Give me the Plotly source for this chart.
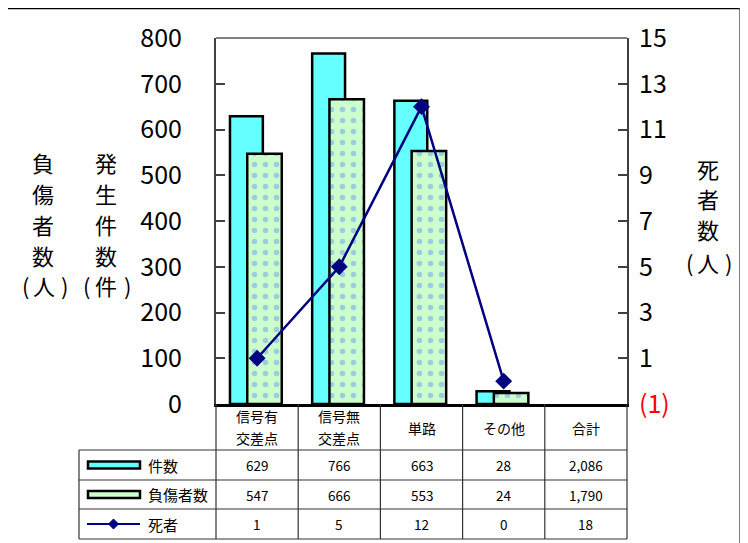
import plotly.graph_objects as go

categories = ["信号有<br>交差点", "信号無<br>交差点", "単路", "その他", "合計"]
bar_categories = categories[:4]
incidents = [629, 766, 663, 28]      # 件数
injured = [547, 666, 553, 24]        # 負傷者数
deaths = [1, 5, 12, 0]               # 死者
series_names = ["件数", "負傷者数", "死者"]
left_ticks = [0, 100, 200, 300, 400, 500, 600, 700, 800]
right_ticks = [-1, 1, 3, 5, 7, 9, 11, 13, 15]
right_ticktext = ["<span style='color:red'>(1)</span>", "1", "3", "5", "7", "9", "11", "13", "15"]

# the page adds an 8px body margin, so the figure is drawn 8px smaller and offset
OFF = 8
W, H = 748 - OFF, 543 - OFF
FONT = "Noto Sans CJK JP"

def px(x):
    return (x - OFF) / W

def py(y):
    return 1 - (y - OFF) / H

x_dom = [px(216), px(627)]
y_dom = [py(404), py(38)]

fig = go.Figure()
fig.add_trace(go.Bar(
    x=bar_categories, y=incidents, name=series_names[0],
    marker=dict(color="#66FFFF", line=dict(color="black", width=2.5)),
    offset=-0.33, width=0.40, yaxis="y", showlegend=False))
fig.add_trace(go.Bar(
    x=bar_categories, y=injured, name=series_names[1],
    marker=dict(color="#CCFFCC", line=dict(color="black", width=2.5),
                pattern=dict(shape=".", fgcolor="#6A9BF0", size=11, solidity=0.2)),
    offset=-0.12, width=0.42, yaxis="y", showlegend=False))
fig.add_trace(go.Scatter(
    x=bar_categories, y=deaths, name=series_names[2], mode="lines+markers",
    line=dict(color="#000080", width=2.5),
    marker=dict(symbol="diamond", size=13, color="#000080"),
    yaxis="y2", showlegend=False))

fig.update_layout(
    width=W, height=H, margin=dict(l=0, r=0, t=0, b=0, pad=0), autosize=False,
    paper_bgcolor="white", plot_bgcolor="white",
    barmode="overlay",
    font=dict(family=FONT, color="black"),
    xaxis=dict(domain=x_dom, type="category", categoryorder="array",
               categoryarray=categories, range=[-0.5, 4.5], automargin=False,
               showticklabels=False, ticks="", showgrid=False,
               showline=True, linecolor="black", linewidth=2.5, zeroline=False),
    yaxis=dict(domain=y_dom, range=[0, 800], tickvals=left_ticks, automargin=False,
               ticks="inside", ticklen=9, tickcolor="#404040", tickwidth=1.5,
               showgrid=False, zeroline=False, showline=True, linecolor="#404040",
               linewidth=2, tickfont=dict(size=25, family=FONT),
               ticklabelstandoff=27),
    yaxis2=dict(domain=y_dom, range=[-1, 15], tickvals=right_ticks, ticktext=right_ticktext,
                overlaying="y", side="right", anchor="x", automargin=False,
                ticks="inside", ticklen=9, tickcolor="#404040", tickwidth=1.5,
                showgrid=False, zeroline=False, showline=True, linecolor="#404040",
                linewidth=2, tickfont=dict(size=25, family=FONT),
                ticklabelstandoff=5),
)

shapes = []
ann = []
line_col = "#333333"
# top border of plot area
shapes.append(dict(type="line", xref="paper", yref="paper", x0=x_dom[0], x1=x_dom[1],
                   y0=y_dom[1], y1=y_dom[1], line=dict(color="#555555", width=1.5)))
# outer frame lines (top and right)
shapes.append(dict(type="line", xref="paper", yref="paper", x0=0, x1=px(740),
                   y0=py(8.6), y1=py(8.6), line=dict(color="black", width=1.5)))
shapes.append(dict(type="line", xref="paper", yref="paper", x0=px(740), x1=px(740),
                   y0=py(8), y1=0, line=dict(color="#555555", width=1.5)))

# table geometry
row_y = [404, 450, 480, 509, 539]
tbl_left = 79
for i in range(len(categories) + 1):
    xv = x_dom[0] + (x_dom[1] - x_dom[0]) * i / len(categories)
    shapes.append(dict(type="line", xref="paper", yref="paper", x0=xv, x1=xv,
                       y0=py(404), y1=py(539), line=dict(color=line_col, width=1.2)))
shapes.append(dict(type="line", xref="paper", yref="paper", x0=px(tbl_left), x1=px(tbl_left),
                   y0=py(450), y1=py(539), line=dict(color=line_col, width=1.2)))
for yv in row_y[1:]:
    shapes.append(dict(type="line", xref="paper", yref="paper", x0=px(tbl_left), x1=x_dom[1],
                       y0=py(yv), y1=py(yv), line=dict(color=line_col, width=1.2)))

# header labels (one annotation per line)
for c in categories:
    parts = c.split("<br>")
    ys = [416, 438] if len(parts) == 2 else [428]
    for part, yy in zip(parts, ys):
        ann.append(dict(x=c, xref="x", y=py(yy), yref="paper", text=part, showarrow=False,
                        font=dict(size=14, family=FONT), yanchor="middle"))

rows = [incidents, injured, deaths]
for r, vals in enumerate(rows):
    yc = py((row_y[r + 1] + row_y[r + 2]) / 2)
    total = sum(vals)
    cells = [f"{v:,}" for v in vals] + [f"{total:,}"]
    for c, t in zip(categories, cells):
        ann.append(dict(x=c, xref="x", y=yc, yref="paper", text=t, showarrow=False,
                        font=dict(size=13.5, family=FONT), yanchor="middle"))
    ann.append(dict(x=px(146), xref="paper", y=yc, yref="paper", text=series_names[r],
                    showarrow=False, xanchor="left", yanchor="middle",
                    font=dict(size=15, family=FONT)))

# legend keys in the table
y1c = (450 + 480) / 2
shapes.append(dict(type="rect", xref="paper", yref="paper", x0=px(88), x1=px(140),
                   y0=py(y1c + 3.5), y1=py(y1c - 3.5), fillcolor="#66FFFF",
                   line=dict(color="black", width=2.5)))
y2c = (480 + 509) / 2
shapes.append(dict(type="rect", xref="paper", yref="paper", x0=px(88), x1=px(140),
                   y0=py(y2c + 3.5), y1=py(y2c - 3.5), fillcolor="#CCFFCC",
                   line=dict(color="black", width=2.5)))
y3c = (509 + 539) / 2
shapes.append(dict(type="line", xref="paper", yref="paper", x0=px(87), x1=px(140),
                   y0=py(y3c), y1=py(y3c), line=dict(color="#000080", width=2)))
shapes.append(dict(type="path", xref="paper", yref="paper",
                   path=f"M {px(113.5)} {py(y3c-5)} L {px(118.5)} {py(y3c)} L {px(113.5)} {py(y3c+5)} L {px(108.5)} {py(y3c)} Z",
                   fillcolor="#000080", line=dict(color="#000080", width=1)))

# axis titles (vertical stacked, one glyph per annotation)
def add_char(text, x, y, size=22):
    ann.append(dict(x=px(x), y=py(y), xref="paper", yref="paper", showarrow=False,
                    text=text, font=dict(size=size, family=FONT),
                    yanchor="middle", xanchor="center"))

for ch, y in zip("負傷者数", [162, 193, 224, 255]):
    add_char(ch, 43, y)
for ch, y in zip("発生件数", [162, 193, 224, 255]):
    add_char(ch, 106, y)
for ch, x in zip(["(", "人", ")", "(", "件", ")"], [25, 44, 64, 86, 106, 127]):
    add_char(ch, x, 285)
for ch, y in zip("死者数", [168, 198, 229]):
    add_char(ch, 708, y)
for ch, x in zip(["(", "人", ")"], [689, 708, 728]):
    add_char(ch, x, 262)

fig.update_layout(shapes=shapes, annotations=ann)
fig.write_html("out.html")
